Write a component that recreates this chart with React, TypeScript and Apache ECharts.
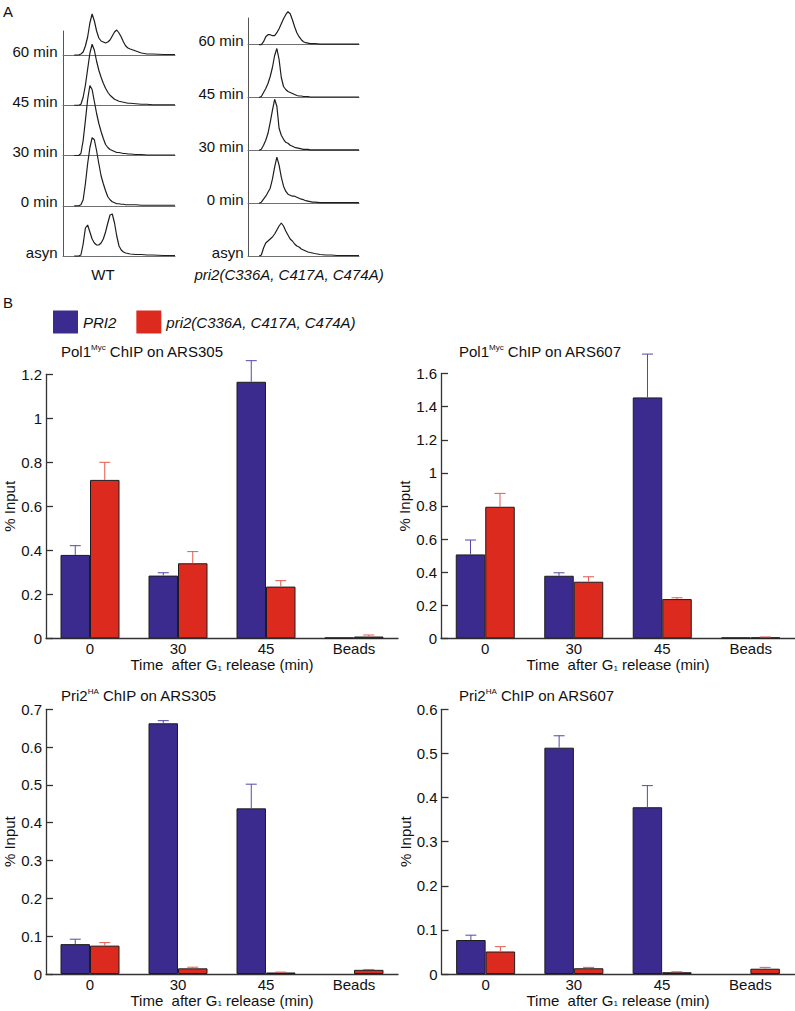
import React, { useEffect, useRef } from "react";
import * as echarts from "echarts";

// ---------- DATA ----------
// Panel A: flow cytometry DNA-content histograms (channel vs. cell count)
const FLOW_CHANNEL = [10, 12, 14, 16, 18, 20, 22, 24, 26, 28, 30, 32, 34, 36, 38, 40, 42, 44, 46, 48, 50, 52, 54, 56, 58, 60, 65, 70, 75, 80, 90, 100];

const WT_60 = [0, 0, 0, 1, 3, 9, 18, 32, 41, 34, 24, 17, 14, 13, 12, 13, 15, 19, 23, 25, 22, 18, 13, 9, 7, 6, 4, 2, 1, 1, 0.5, 0.5];
const WT_45 = [0, 0, 0, 1, 8, 20, 36, 52, 61, 55, 44, 35, 28, 22, 17, 13, 10, 8, 6, 5, 4, 3.5, 3, 2.5, 2, 2, 1.5, 1, 1, 0.5, 0.5, 0.5];
const WT_30 = [0, 0, 0, 2, 15, 35, 56, 70, 66, 54, 42, 32, 24, 17, 11, 8, 6, 5, 4, 3, 3, 2.5, 2, 2, 1.5, 1.5, 1, 1, 0.5, 0.5, 0.5, 0.5];
const WT_0 = [0, 0, 0, 1, 6, 22, 42, 58, 68, 66, 55, 42, 30, 22, 15, 9, 6, 4, 3, 2, 2, 1.5, 1.5, 1, 1, 1, 1, 0.5, 0.5, 0.5, 0.5, 0.5];
const WT_ASYN = [0, 0, 0, 1, 12, 28, 31, 24, 17, 13, 11, 11, 13, 17, 24, 33, 41, 42, 33, 20, 10, 6, 4, 3, 2.5, 2, 1.5, 1.5, 1, 1, 0.5, 0.5];

const MUT_60 = [0, 0, 3, 8, 10, 10, 9, 9, 12, 16, 21, 26, 30, 33, 31, 25, 18, 12, 8, 5, 3, 2, 1.5, 1, 1, 1, 0.5, 0.5, 0.5, 0.5, 0.5, 0.5];
const MUT_45 = [0, 1, 5, 9, 14, 21, 30, 42, 49, 38, 20, 11, 8, 6, 5, 4, 3, 2, 1.5, 1.5, 1, 1, 1, 0.5, 0.5, 0.5, 0.5, 0.5, 0.5, 0.5, 0.5, 0.5];
const MUT_30 = [0, 1, 5, 10, 17, 28, 40, 51, 44, 22, 15, 11, 8, 7, 5, 4, 3, 2.5, 2, 1.5, 1, 1, 1, 0.5, 0.5, 0.5, 0.5, 0.5, 0.5, 0.5, 0.5, 0.5];
const MUT_0 = [0, 1, 4, 7, 11, 15, 24, 36, 46, 38, 26, 17, 12, 9, 8, 7, 7, 6, 5, 4, 3.5, 2.5, 2, 1.5, 1, 1, 0.5, 0.5, 0.5, 0.5, 0.5, 0.5];
const MUT_ASYN = [0, 1, 8, 13, 15, 17, 19, 22, 26, 30, 33, 30, 25, 21, 17, 15, 12, 10, 9, 7, 6, 5, 4, 3.5, 3, 2.5, 1.5, 1, 1, 0.5, 0.5, 0.5];

const TIME_LABELS = ["60 min", "45 min", "30 min", "0 min", "asyn"];

// Panel B: ChIP bar charts
const CATEGORIES = ["0", "30", "45", "Beads"];
const SERIES_NAMES = ["PRI2", "pri2(C336A, C417A, C474A)"];

const POL1_305_WT = [0.379, 0.285, 1.166, 0.003];
const POL1_305_WT_SD = [0.042, 0.013, 0.096, 0];
const POL1_305_MUT = [0.72, 0.341, 0.235, 0.008];
const POL1_305_MUT_SD = [0.08, 0.053, 0.027, 0.007];

const POL1_607_WT = [0.507, 0.378, 1.456, 0.004];
const POL1_607_WT_SD = [0.087, 0.018, 0.262, 0];
const POL1_607_MUT = [0.795, 0.342, 0.237, 0.005];
const POL1_607_MUT_SD = [0.081, 0.03, 0.008, 0.003];

const PRI2_305_WT = [0.079, 0.663, 0.438, 0];
const PRI2_305_WT_SD = [0.013, 0.007, 0.064, 0];
const PRI2_305_MUT = [0.075, 0.015, 0.004, 0.011];
const PRI2_305_MUT_SD = [0.008, 0.003, 0.001, 0.001];

const PRI2_607_WT = [0.077, 0.513, 0.378, 0];
const PRI2_607_WT_SD = [0.011, 0.027, 0.049, 0];
const PRI2_607_MUT = [0.051, 0.013, 0.004, 0.012];
const PRI2_607_MUT_SD = [0.011, 0.002, 0.001, 0.003];

// ---------- STYLE / LAYOUT ----------
const FONT = "'Liberation Sans', Arial, Helvetica, sans-serif";
const BLUE = "#3b2b8e";
const RED = "#dc2a1e";
const BLUE_ERR = "#5548a8";
const RED_ERR = "#e35a4e";
const AXIS = "#333333";
const TEXT = "#111111";
const BAR_W = 29.5;

function buildOption() {
  const grids: any[] = [];
  const xAxes: any[] = [];
  const yAxes: any[] = [];
  const series: any[] = [];
  const graphics: any[] = [];

  const txt = (text: string, x: number, y: number, extra: any = {}) =>
    graphics.push({
      type: "text",
      x,
      y,
      silent: true,
      style: {
        text,
        fontSize: 15,
        fontFamily: FONT,
        fill: TEXT,
        align: "left",
        verticalAlign: "middle",
        ...extra,
      },
    });

  // ----- Panel A histograms -----
  const addHist = (left: number, width: number, top: number, height: number, values: number[]) => {
    const idx = grids.length;
    grids.push({ left, top, width, height });
    xAxes.push({
      type: "value",
      gridIndex: idx,
      min: 0,
      max: 100,
      axisLine: { show: true, lineStyle: { color: "#707070", width: 1 } },
      axisTick: { show: false },
      axisLabel: { show: false },
      splitLine: { show: false },
    });
    yAxes.push({
      type: "value",
      gridIndex: idx,
      min: 0,
      max: height,
      axisLine: { show: true, lineStyle: { color: "#555", width: 1 } },
      axisTick: { show: false },
      axisLabel: { show: false },
      splitLine: { show: false },
    });
    series.push({
      type: "line",
      xAxisIndex: idx,
      yAxisIndex: idx,
      data: FLOW_CHANNEL.map((c, i) => [c, values[i]]),
      showSymbol: false,
      clip: false,
      silent: true,
      lineStyle: { color: "#1e1e1e", width: 1.2 },
    });
  };

  const columns = [
    {
      left: 63, width: 112, topLine: 31,
      baselines: [55, 105.25, 155.5, 205.75, 256],
      data: [WT_60, WT_45, WT_30, WT_0, WT_ASYN],
      labelRight: 57.5,
    },
    {
      left: 248, width: 111, topLine: 18,
      baselines: [44.7, 97.5, 150.3, 203.2, 256],
      data: [MUT_60, MUT_45, MUT_30, MUT_0, MUT_ASYN],
      labelRight: 243.5,
    },
  ];
  columns.forEach((col) => {
    col.baselines.forEach((b, i) => {
      const top = i === 0 ? col.topLine : col.baselines[i - 1];
      addHist(col.left, col.width, top, b - top, col.data[i]);
      txt(TIME_LABELS[i], col.labelRight, b - 4, { align: "right" });
    });
  });
  txt("A", 3, 11);
  txt("WT", 103, 274, { align: "center" });
  txt("pri2(C336A, C417A, C474A)", 289, 274, { align: "center", fontStyle: "italic" });
  txt("B", 3, 302);

  // ----- Panel B bar charts -----
  const addBars = (
    g: { left: number; top: number; width: number; height: number },
    max: number,
    interval: number,
    wt: number[],
    wtSd: number[],
    mut: number[],
    mutSd: number[],
    title: [string, string, string],
    titlePos: [number, number]
  ) => {
    const idx = grids.length;
    grids.push(g);
    xAxes.push({
      type: "category",
      gridIndex: idx,
      data: CATEGORIES,
      axisLine: { show: true, lineStyle: { color: AXIS, width: 1.3 } },
      axisTick: { show: false },
      axisLabel: { fontSize: 15, fontFamily: FONT, color: TEXT, margin: 3 },
      name: "Time  after G{sub|1} release (min)",
      nameLocation: "middle",
      nameGap: 17,
      nameTextStyle: {
        fontSize: 15,
        fontFamily: FONT,
        color: TEXT,
        rich: { sub: { fontSize: 8, fontFamily: FONT, color: TEXT, verticalAlign: "bottom", padding: [5, 0, 0, 0] } },
      },
    });
    yAxes.push({
      type: "value",
      gridIndex: idx,
      min: 0,
      max,
      interval,
      axisLine: { show: true, lineStyle: { color: AXIS, width: 1.3 } },
      axisTick: { show: true, inside: true, length: 7, lineStyle: { color: AXIS, width: 1.3 } },
      axisLabel: { fontSize: 15, fontFamily: FONT, color: TEXT, margin: 4 },
      splitLine: { show: false },
      name: "% Input",
      nameLocation: "middle",
      nameGap: 28,
      nameTextStyle: { fontSize: 15, fontFamily: FONT, color: TEXT },
    });
    const barData = (vals: number[]) =>
      vals.map((v) => (v === 0 ? { value: 0, itemStyle: { borderWidth: 0 } } : v));
    series.push({
      name: SERIES_NAMES[0],
      type: "bar",
      xAxisIndex: idx,
      yAxisIndex: idx,
      data: barData(wt),
      barWidth: BAR_W,
      barGap: "0%",
      itemStyle: { color: BLUE, borderColor: "#1c1c1c", borderWidth: 1 },
      silent: true,
    });
    series.push({
      name: SERIES_NAMES[1],
      type: "bar",
      xAxisIndex: idx,
      yAxisIndex: idx,
      data: barData(mut),
      barWidth: BAR_W,
      barGap: "0%",
      itemStyle: { color: RED, borderColor: "#1c1c1c", borderWidth: 1 },
      silent: true,
    });
    const errSeries = (vals: number[], sds: number[], offset: number, color: string) => ({
      type: "custom",
      xAxisIndex: idx,
      yAxisIndex: idx,
      silent: true,
      z: 5,
      data: vals.map((v, i) => [i, v, v + sds[i]]).filter((d, i) => sds[i] > 0),
      encode: { x: 0, y: [1, 2] },
      renderItem: (_p: any, api: any) => {
        const cat = api.value(0);
        const base = api.coord([cat, api.value(1)]);
        const top = api.coord([cat, api.value(2)]);
        const x = base[0] + offset;
        const st = { stroke: color, lineWidth: 1 };
        return {
          type: "group",
          children: [
            { type: "line", shape: { x1: x, y1: base[1], x2: x, y2: top[1] }, style: st },
            { type: "line", shape: { x1: x - 5.5, y1: top[1], x2: x + 5.5, y2: top[1] }, style: st },
          ],
        };
      },
    });
    series.push(errSeries(wt, wtSd, -BAR_W / 2, BLUE_ERR));
    series.push(errSeries(mut, mutSd, BAR_W / 2, RED_ERR));

    txt(`${title[0]}{sup|${title[1]}}${title[2]}`, titlePos[0], titlePos[1], {
      rich: { sup: { fontSize: 8, fontFamily: FONT, fill: TEXT, verticalAlign: "top" } },
    });
  };

  addBars({ left: 46, top: 374.3, width: 352, height: 264 }, 1.2, 0.2,
    POL1_305_WT, POL1_305_WT_SD, POL1_305_MUT, POL1_305_MUT_SD,
    ["Pol1", "Myc", " ChIP on ARS305"], [61, 351]);
  addBars({ left: 441, top: 373.6, width: 354, height: 264.7 }, 1.6, 0.2,
    POL1_607_WT, POL1_607_WT_SD, POL1_607_MUT, POL1_607_MUT_SD,
    ["Pol1", "Myc", " ChIP on ARS607"], [459, 351]);
  addBars({ left: 46, top: 709.3, width: 352, height: 264.7 }, 0.7, 0.1,
    PRI2_305_WT, PRI2_305_WT_SD, PRI2_305_MUT, PRI2_305_MUT_SD,
    ["Pri2", "HA", " ChIP on ARS305"], [61, 695]);
  addBars({ left: 441.5, top: 709.3, width: 353, height: 264.7 }, 0.6, 0.1,
    PRI2_607_WT, PRI2_607_WT_SD, PRI2_607_MUT, PRI2_607_MUT_SD,
    ["Pri2", "HA", " ChIP on ARS607"], [459, 695]);

  return {
    animation: false,
    backgroundColor: "#ffffff",
    textStyle: { fontFamily: FONT },
    legend: {
      left: 48,
      top: 305.5,
      data: SERIES_NAMES,
      icon: "rect",
      itemWidth: 25,
      itemHeight: 23,
      itemGap: 20,
      selectedMode: false,
      itemStyle: { borderWidth: 0 },
      textStyle: { fontSize: 15, fontStyle: "italic", fontFamily: FONT, color: TEXT },
    },
    grid: grids,
    xAxis: xAxes,
    yAxis: yAxes,
    series,
    graphic: graphics,
  };
}

export default function App() {
  const ref = useRef<HTMLDivElement>(null);
  useEffect(() => {
    document.body.style.margin = "0";
    const chart = echarts.init(ref.current as HTMLDivElement, null, { renderer: "svg" });
    chart.setOption(buildOption() as any);
    return () => chart.dispose();
  }, []);
  return <div ref={ref} style={{ width: 795, height: 1011, background: "#fff" }} />;
}
